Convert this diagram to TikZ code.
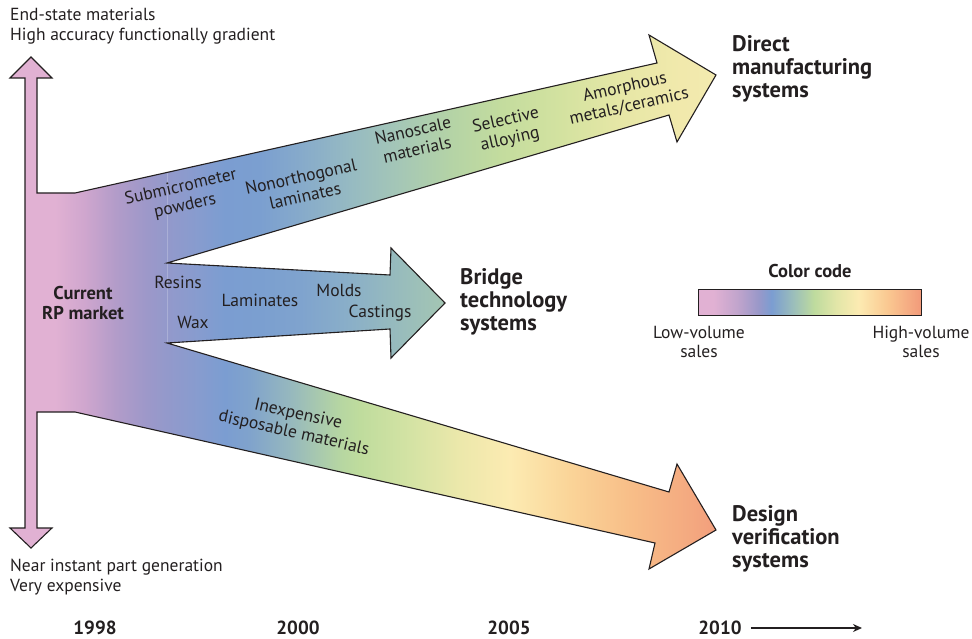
\documentclass[tikz,border=0pt]{standalone}
\usepackage{fontspec}
\setmainfont{PT Sans}
\usetikzlibrary{arrows.meta}

\definecolor{inkgray}{HTML}{231F20}

% colour stops, x position in px maps to 25bp + x/20
\pgfdeclarehorizontalshading{bodyfade}{100bp}{
  color(0bp)=(rgb,255:red,225;green,177;blue,211);
  color(27.75bp)=(rgb,255:red,225;green,177;blue,211);
  color(29.25bp)=(rgb,255:red,207;green,166;blue,206);
  color(30.75bp)=(rgb,255:red,179;green,156;blue,201);
  color(32.25bp)=(rgb,255:red,158;green,152;blue,201);
  color(33.35bp)=(rgb,255:red,147;green,153;blue,203);
  color(100bp)=(rgb,255:red,147;green,153;blue,203)}
\pgfdeclarehorizontalshading{upperfade}{100bp}{
  color(0bp)=(rgb,255:red,147;green,153;blue,203);
  color(33.35bp)=(rgb,255:red,147;green,153;blue,203);
  color(35bp)=(rgb,255:red,134;green,156;blue,207);
  color(36.25bp)=(rgb,255:red,123;green,157;blue,209);
  color(38bp)=(rgb,255:red,123;green,159;blue,208);
  color(40bp)=(rgb,255:red,134;green,170;blue,203);
  color(42.5bp)=(rgb,255:red,150;green,186;blue,194);
  color(45bp)=(rgb,255:red,165;green,199;blue,182);
  color(47.5bp)=(rgb,255:red,180;green,211;blue,166);
  color(50bp)=(rgb,255:red,195;green,220;blue,158);
  color(53bp)=(rgb,255:red,211;green,226;blue,160);
  color(56bp)=(rgb,255:red,230;green,231;blue,166);
  color(59bp)=(rgb,255:red,241;green,233;blue,172);
  color(60.8bp)=(rgb,255:red,243;green,234;blue,175);
  color(100bp)=(rgb,255:red,243;green,234;blue,175)}
\pgfdeclarehorizontalshading{middlefade}{100bp}{
  color(0bp)=(rgb,255:red,147;green,153;blue,203);
  color(33.35bp)=(rgb,255:red,147;green,153;blue,203);
  color(35bp)=(rgb,255:red,134;green,156;blue,207);
  color(36.25bp)=(rgb,255:red,123;green,157;blue,209);
  color(38bp)=(rgb,255:red,123;green,159;blue,208);
  color(40bp)=(rgb,255:red,127;green,163;blue,206);
  color(42.5bp)=(rgb,255:red,138;green,175;blue,200);
  color(45bp)=(rgb,255:red,152;green,188;blue,188);
  color(47.25bp)=(rgb,255:red,164;green,198;blue,179);
  color(100bp)=(rgb,255:red,164;green,198;blue,179)}
\pgfdeclarehorizontalshading{lowerfade}{100bp}{
  color(0bp)=(rgb,255:red,147;green,153;blue,203);
  color(33.35bp)=(rgb,255:red,147;green,153;blue,203);
  color(35bp)=(rgb,255:red,134;green,156;blue,207);
  color(36.25bp)=(rgb,255:red,123;green,157;blue,209);
  color(37.5bp)=(rgb,255:red,128;green,163;blue,204);
  color(39.5bp)=(rgb,255:red,150;green,184;blue,190);
  color(42bp)=(rgb,255:red,182;green,214;blue,162);
  color(43bp)=(rgb,255:red,191;green,220;blue,157);
  color(45.5bp)=(rgb,255:red,212;green,227;blue,164);
  color(48bp)=(rgb,255:red,236;green,232;blue,171);
  color(50.5bp)=(rgb,255:red,252;green,235;blue,178);
  color(53.5bp)=(rgb,255:red,250;green,212;blue,152);
  color(56.5bp)=(rgb,255:red,248;green,190;blue,136);
  color(59.5bp)=(rgb,255:red,244;green,169;blue,128);
  color(60.8bp)=(rgb,255:red,242;green,158;blue,124);
  color(100bp)=(rgb,255:red,242;green,158;blue,124)}
\pgfdeclarehorizontalshading{colorbar}{100bp}{
  color(0bp)=(rgb,255:red,225;green,177;blue,211);
  color(28.5bp)=(rgb,255:red,225;green,177;blue,211);
  color(34bp)=(rgb,255:red,192;green,164;blue,204);
  color(38.5bp)=(rgb,255:red,154;green,152;blue,201);
  color(41.5bp)=(rgb,255:red,123;green,157;blue,209);
  color(46.5bp)=(rgb,255:red,156;green,191;blue,186);
  color(51bp)=(rgb,255:red,190;green,219;blue,158);
  color(56bp)=(rgb,255:red,226;green,230;blue,168);
  color(61bp)=(rgb,255:red,252;green,235;blue,178);
  color(67.5bp)=(rgb,255:red,250;green,200;blue,145);
  color(75bp)=(rgb,255:red,242;green,154;blue,122);
  color(100bp)=(rgb,255:red,242;green,154;blue,122)}

\begin{document}
\begin{tikzpicture}[x=1pt, y=-1pt,
    itemtext/.style={font=\fontsize{17.5}{19.5}\selectfont, text=inkgray, align=center, inner sep=0pt},
    notetext/.style={font=\fontsize{17.5}{19.5}\selectfont, text=inkgray, align=left, anchor=west, inner sep=0pt},
    systemtext/.style={font=\bfseries\fontsize{22.5}{23}\selectfont, text=inkgray, align=left, anchor=west, inner sep=0pt},
    headtext/.style={font=\bfseries\fontsize{18.5}{20}\selectfont, text=inkgray, align=center, inner sep=0pt},
    yeartext/.style={font=\bfseries\fontsize{19}{21}\selectfont, text=inkgray, inner sep=0pt},
    outline/.style={draw=inkgray, line width=1.1pt, line join=miter},
]
    \useasboundingbox (0,0) rectangle (972,639);

    %Fills
    \begin{scope}
        \clip (31,57) -- (52,78) -- (37,78) -- (37,193) -- (75,193) -- (167,172.45) -- (167,432.8) -- (75,412)
            -- (37,412) -- (37,528) -- (52,528) -- (31,548) -- (10,528) -- (25,528) -- (25,78) -- (10,78) -- cycle;
        \shade[shading=bodyfade] (0,0) rectangle (1000,639);
    \end{scope}
    \begin{scope}
        \clip (167,172.45) -- (657,63) -- (649,35) -- (716,75) -- (677,142) -- (669,115) -- (167,263) -- cycle;
        \shade[shading=upperfade] (0,0) rectangle (1000,639);
    \end{scope}
    \begin{scope}
        \clip (167,263) -- (390,275) -- (391,248) -- (445,303) -- (391,358) -- (390,329) -- (167,343) -- cycle;
        \shade[shading=middlefade] (0,0) rectangle (1000,639);
    \end{scope}
    \begin{scope}
        \clip (167,343) -- (669,492) -- (677,464) -- (716,530) -- (649,569) -- (655,543) -- (167,432.8) -- cycle;
        \shade[shading=lowerfade] (0,0) rectangle (1000,639);
    \end{scope}
    \draw[white, opacity=0.22, line width=0.6pt] (167,172.45) -- (167,343);

    %Outline
    \draw[outline] (31,57) -- (52,78) -- (37,78) -- (37,193) -- (75,193) -- (657,63) -- (649,35) -- (716,75)
        -- (677,142) -- (669,115) -- (167,263) -- (390,275) -- (391,248) -- (445,303) -- (391,358) -- (390,329)
        -- (167,343) -- (669,492) -- (677,464) -- (716,530) -- (649,569) -- (655,543) -- (75,412) -- (37,412)
        -- (37,528) -- (52,528) -- (31,548) -- (10,528) -- (25,528) -- (25,78) -- (10,78) -- cycle;

    %Nodes
    \node[notetext] (endstate) at (10,26) {End-state materials\\High accuracy functionally gradient};
    \node[notetext] (instant) at (10,577) {Near instant part generation\\Very expensive};
    \node[headtext] (market) at (83,303) {Current\\RP market};

    \node[itemtext, rotate=12.6] (powders) at (183,197) {Submicrometer\\powders};
    \node[itemtext, rotate=12.6] (nonortho) at (303,186) {Nonorthogonal\\laminates};
    \node[itemtext, rotate=12.6] (nanoscale) at (415,140) {Nanoscale\\materials};
    \node[itemtext, rotate=12.6] (alloying) at (508,130) {Selective\\alloying};
    \node[itemtext, rotate=12.6] (amorphous) at (627,97) {Amorphous\\metals/ceramics};

    \node[itemtext] (resins) at (178,282) {Resins};
    \node[itemtext] (wax) at (193,322) {Wax};
    \node[itemtext] (laminates) at (260,300) {Laminates};
    \node[itemtext] (molds) at (339,290) {Molds};
    \node[itemtext] (castings) at (380,313) {Castings};

    \node[itemtext, rotate=-12.7] (disposable) at (296,424) {Inexpensive\\disposable materials};

    \node[systemtext] (direct) at (732,69) {Direct\\manufacturing\\systems};
    \node[systemtext] (bridge) at (460,302) {Bridge\\technology\\systems};
    \node[systemtext] (design) at (732,539) {Design\\verification\\systems};

    %Color code
    \node[headtext] (colorcode) at (810,271) {Color code};
    \shade[shading=colorbar, draw=inkgray, line width=1pt] (698,289) rectangle (921,315);
    \node[itemtext] (lowvol) at (699,342) {Low-volume\\sales};
    \node[itemtext] (highvol) at (921,342) {High-volume\\sales};

    %Years
    \node[yeartext] (y1998) at (95,628) {1998};
    \node[yeartext] (y2000) at (298,628) {2000};
    \node[yeartext] (y2005) at (509,628) {2005};
    \node[yeartext] (y2010) at (720,628) {2010};
    \coordinate (timeend) at (862,628);
    \draw[inkgray, line width=1.8pt, -{Stealth[length=9pt, width=8pt]}] ([xshift=9pt]y2010.east) -- (timeend);
\end{tikzpicture}
\end{document}
